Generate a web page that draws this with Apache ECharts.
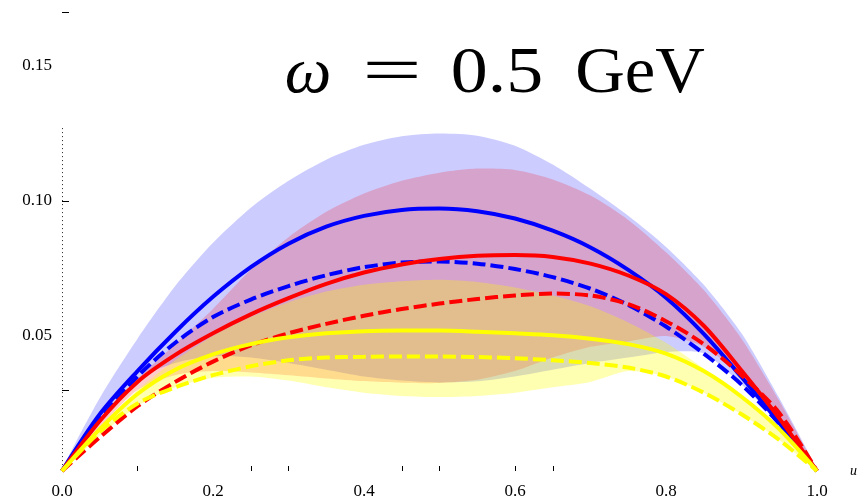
<!DOCTYPE html>
<html>
<head>
<meta charset="utf-8">
<script src="https://cdn.jsdelivr.net/npm/echarts@6/dist/echarts.min.js"></script>
<style>
  html, body { margin: 0; padding: 0; background: #fff; }
  #main { width: 863px; height: 503px; }
</style>
</head>
<body>
<div id="main"></div>
<script>
// x grid (u)
const u = [0, 0.05, 0.1, 0.15, 0.2, 0.25, 0.3, 0.35, 0.4, 0.45, 0.5,
           0.55, 0.6, 0.65, 0.7, 0.75, 0.8, 0.85, 0.9, 0.95, 1];

// central curves
const blueSolid  = [0, 0.021, 0.037, 0.0515, 0.0645, 0.0755, 0.0842, 0.0905, 0.0945, 0.0967, 0.0972,
                    0.0962, 0.0935, 0.089, 0.0828, 0.0745, 0.0642, 0.0508, 0.0348, 0.0178, 0];
const blueDashed = [0, 0.019, 0.035, 0.0475, 0.057, 0.0635, 0.0685, 0.0725, 0.0755, 0.0772, 0.0776,
                    0.0768, 0.0748, 0.0718, 0.0675, 0.0615, 0.0535, 0.0435, 0.032, 0.0175, 0];
const redSolid   = [0, 0.0185, 0.033, 0.043, 0.051, 0.058, 0.064, 0.0693, 0.0735, 0.0765, 0.0785,
                    0.0797, 0.080, 0.0793, 0.0768, 0.0724, 0.0655, 0.0538, 0.0372, 0.0195, 0];
const redDashed  = [0, 0.0125, 0.024, 0.033, 0.0405, 0.0465, 0.051, 0.0545, 0.0575, 0.060, 0.062,
                    0.0637, 0.065, 0.0657, 0.065, 0.0618, 0.0555, 0.047, 0.0355, 0.0215, 0];
const yellowSolid  = [0, 0.0155, 0.0285, 0.0375, 0.0432, 0.047, 0.0495, 0.051, 0.0518, 0.052, 0.052,
                      0.0516, 0.051, 0.0503, 0.049, 0.047, 0.0435, 0.037, 0.0275, 0.0155, 0];
const yellowDashed = [0, 0.0145, 0.025, 0.031, 0.0355, 0.0388, 0.041, 0.042, 0.0423, 0.0424, 0.0424,
                      0.0422, 0.0418, 0.041, 0.040, 0.0383, 0.035, 0.029, 0.021, 0.0115, 0];

// uncertainty bands
const blueUpper = [0, 0.027, 0.049, 0.0685, 0.0845, 0.0975, 0.1075, 0.1153, 0.1208, 0.124, 0.125,
                   0.1242, 0.1205, 0.1135, 0.1045, 0.0945, 0.083, 0.069, 0.051, 0.027, 0];
const blueLower = [0, 0.019, 0.034, 0.040, 0.0425, 0.042, 0.040, 0.0375, 0.035, 0.0335, 0.0328,
                   0.0332, 0.035, 0.0375, 0.040, 0.042, 0.044, 0.0435, 0.032, 0.0175, 0];
const redUpper  = [0, 0.019, 0.034, 0.047, 0.060, 0.0745, 0.0866, 0.096, 0.1028, 0.1075, 0.1105,
                   0.112, 0.1115, 0.108, 0.102, 0.093, 0.081, 0.067, 0.049, 0.026, 0];
const redLower  = [0, 0.016, 0.030, 0.0355, 0.037, 0.0365, 0.0355, 0.0343, 0.0333, 0.0327, 0.0326,
                   0.0338, 0.037, 0.042, 0.046, 0.048, 0.050, 0.046, 0.035, 0.019, 0];
const yellowUpper = [0, 0.016, 0.030, 0.041, 0.050, 0.057, 0.0625, 0.0665, 0.069, 0.0703, 0.0708,
                     0.070, 0.068, 0.065, 0.061, 0.055, 0.0475, 0.038, 0.0275, 0.0155, 0];
const yellowLower = [0, 0.013, 0.024, 0.031, 0.0345, 0.035, 0.0335, 0.031, 0.029, 0.0278, 0.0274,
                     0.0278, 0.029, 0.031, 0.033, 0.037, 0.035, 0.029, 0.021, 0.0115, 0];

// axis ticks / labels
const xLabels = [0, 0.2, 0.4, 0.6, 0.8, 1.0];
const xTicks = [0.1, 0.25, 0.3, 0.45, 0.5, 0.6, 0.65];
const yLabels = [0.05, 0.10, 0.15];
const yTicks = [0.03, 0.10, 0.17];
const yAxisTop = 0.127;

const myChart = echarts.init(document.getElementById('main'));

function pts(arr) {
  return u.map((x, i) => [x, arr[i]]);
}

// filled region between lower and upper, drawn as one polygon
function band(lower, upper, color) {
  return {
    type: 'custom',
    silent: true,
    data: u.map((x, i) => [x, lower[i], upper[i]]),
    encode: { x: 0, y: [1, 2] },
    renderItem(params, api) {
      if (params.dataIndex !== 0) return null;
      const top = u.map((x, i) => api.coord([x, upper[i]]));
      const bottom = u.slice(1, -1).map((x, i) => api.coord([x, lower[i + 1]])).reverse();
      return {
        type: 'polygon',
        shape: { points: top.concat(bottom), smooth: 0.25 },
        style: { fill: color },
      };
    },
  };
}

function curve(arr, color, dashed) {
  return {
    type: 'line',
    smooth: 0.3,
    symbol: 'none',
    silent: true,
    lineStyle: { color: color, width: 4, type: dashed ? [13, 5] : 'solid' },
    data: pts(arr),
  };
}

const font = 'Liberation Serif, Times New Roman, serif';

function titlePart(text, cx, italic, sx) {
  return {
    type: 'text',
    z: 100,
    x: cx,
    y: 75,
    scaleX: sx || 1,
    style: {
      x: 0,
      y: 0,
      align: 'center',
      verticalAlign: 'middle',
      text: text,
      fontFamily: font,
      fontSize: 66,
      fontStyle: italic ? 'italic' : 'normal',
      fill: '#000',
    },
  };
}

const option = {
  animation: false,
  backgroundColor: '#fff',
  grid: { left: 62, right: 46, top: 12, bottom: 32 },
  xAxis: {
    type: 'value',
    min: 0,
    max: 1,
    interval: 0.2,
    name: 'u',
    nameLocation: 'end',
    nameGap: 33,
    nameTextStyle: { fontFamily: font, fontStyle: 'italic', fontSize: 14, color: '#000', verticalAlign: 'middle' },
    axisLine: { show: false },
    splitLine: { show: false },
    axisTick: { show: true, inside: true, length: 5, customValues: xTicks, lineStyle: { color: '#000' } },
    axisLabel: {
      customValues: xLabels,
      margin: 12,
      fontFamily: font,
      fontSize: 17,
      color: '#000',
      formatter: (v) => v.toFixed(1),
    },
  },
  yAxis: {
    type: 'value',
    min: 0,
    max: 0.17,
    axisLine: { show: false },
    splitLine: { show: false },
    axisTick: { show: true, inside: true, length: 7, customValues: yTicks, lineStyle: { color: '#000' } },
    axisLabel: {
      customValues: yLabels,
      margin: 10,
      fontFamily: font,
      fontSize: 17,
      color: '#000',
      formatter: (v) => v.toFixed(2),
    },
  },
  series: [
    band(blueLower, blueUpper, 'rgba(0,0,255,0.2)'),
    band(redLower, redUpper, 'rgba(255,0,0,0.2)'),
    band(yellowLower, yellowUpper, 'rgba(255,255,0,0.3)'),
    curve(blueSolid, '#0000ff', false),
    curve(blueDashed, '#0000ff', true),
    curve(redSolid, '#ff0000', false),
    curve(redDashed, '#ff0000', true),
    curve(yellowSolid, '#ffff00', false),
    curve(yellowDashed, '#ffff00', true),
  ],
  graphic: [
    titlePart('ω', 308, true),
    titlePart('=', 392, false, 1.6),
    titlePart('0.5', 497, false, 1.12),
    titlePart('GeV', 640, false, 1.04),
  ],
};

myChart.setOption(option);

// dotted vertical axis segment
const pTop = myChart.convertToPixel({ gridIndex: 0 }, [0, yAxisTop]);
const pBot = myChart.convertToPixel({ gridIndex: 0 }, [0, 0]);
myChart.setOption({
  graphic: [
    {
      id: 'yaxisline',
      type: 'line',
      z: 0,
      shape: { x1: pTop[0] + 0.5, y1: pTop[1], x2: pBot[0] + 0.5, y2: pBot[1] - 6 },
      style: { stroke: '#222', lineWidth: 1, lineDash: [1, 3] },
    },
  ],
});
</script>
</body>
</html>
